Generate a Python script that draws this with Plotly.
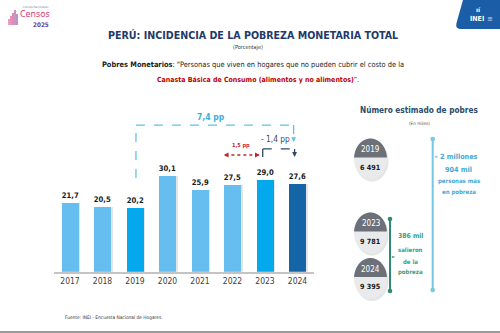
import math
import plotly.graph_objects as go

# Incidencia de la pobreza monetaria total (porcentaje)
anios = ["2017", "2018", "2019", "2020", "2021", "2022", "2023", "2024"]
incidencia = [21.7, 20.5, 20.2, 30.1, 25.9, 27.5, 29.0, 27.6]

# Número estimado de pobres (en miles)
pobres_anios = ["2019", "2023", "2024"]
pobres_miles = [6491, 9781, 9395]

W, H = 500, 333
FN = "DejaVu Sans Condensed, DejaVu Sans, sans-serif"

C_LIGHT = "#66BDF0"
C_MID = "#03A9EC"
C_DARK = "#1565A6"
bar_colors = [C_LIGHT, C_LIGHT, C_MID, C_LIGHT, C_LIGHT, C_LIGHT, C_MID, C_DARK]


def X(px):
    return px / W


def Y(py):
    return 1 - py / H


def fmt_miles(v):
    return f"{v:,}".replace(",", " ")


def pp(v):
    return f"{v:.1f} pp".replace(".", ",")


fig = go.Figure()
# soft shadow behind each bar
fig.add_trace(go.Bar(
    x=anios, y=incidencia, offset=-0.24, width=0.54,
    marker=dict(color="rgba(150,150,150,0.25)", line=dict(width=0)),
    hoverinfo="skip",
))
fig.add_trace(go.Bar(
    x=anios, y=incidencia, offset=-0.26, width=0.52,
    marker=dict(color=bar_colors, line=dict(width=0)),
    texttemplate="<b>%{y:.1f}</b>", textposition="outside",
    textfont=dict(family=FN, size=9.5, color="#1a1a1a"),
    cliponaxis=False, hoverinfo="skip",
))

shapes = []
ann = []


def idx(year):
    return anios.index(year)


# --- brackets over the bars -------------------------------------------
i19, i22, i23, i24 = idx("2019"), idx("2022"), idx("2023"), idx("2024")
v19, v22, v23, v24 = (incidencia[i] for i in (i19, i22, i23, i24))
d_total = round(v24 - v19, 1)
d_last = round(v24 - v23, 1)
d_prev = round(v23 - v22, 1)

top_br = 46.1
LB = "#5CC3EA"
shapes += [
    dict(type="line", xref="x", yref="y", x0=i19 + 0.03, x1=i19 + 0.03, y0=29.5, y1=top_br,
         line=dict(color=LB, width=1.3, dash="dash")),
    dict(type="line", xref="x", yref="y", x0=i19 + 0.03, x1=i24 - 0.12, y0=top_br, y1=top_br,
         line=dict(color=LB, width=1.3, dash="dash")),
    dict(type="line", xref="x", yref="y", x0=i24 - 0.12, x1=i24 - 0.12, y0=top_br, y1=41.2,
         line=dict(color=LB, width=1.3, dash="dash")),
]
ann.append(dict(x=i24 - 0.12, y=40.8, xref="x", yref="y", text="", showarrow=True,
                ax=0, ay=-4, arrowhead=2, arrowsize=0.8, arrowwidth=1.2, arrowcolor=LB))
ann.append(dict(x=4.35, y=48.7, xref="x", yref="y",
                text=f"<b>{pp(d_total)}</b>", showarrow=False,
                font=dict(family=FN, size=8.5, color="#3AB0E2")))

DB = "#2E4868"
yb = 38.6
shapes += [
    dict(type="line", xref="x", yref="y", x0=i23 - 0.07, x1=i23 - 0.07, y0=36.1, y1=yb,
         line=dict(color=DB, width=1.3, dash="dash")),
    dict(type="line", xref="x", yref="y", x0=i23 - 0.07, x1=i24 - 0.09, y0=yb, y1=yb,
         line=dict(color=DB, width=1.3, dash="dash")),
    dict(type="line", xref="x", yref="y", x0=i24 - 0.09, x1=i24 - 0.09, y0=yb, y1=36.6,
         line=dict(color=DB, width=1.3, dash="dash")),
]
ann.append(dict(x=i24 - 0.09, y=36.1, xref="x", yref="y", text="", showarrow=True,
                ax=0, ay=-4, arrowhead=2, arrowsize=0.8, arrowwidth=1.2, arrowcolor=DB))
ann.append(dict(x=6.33, y=41.8, xref="x", yref="y",
                text=f"- {pp(abs(d_last))}", showarrow=False,
                font=dict(family=FN, size=8.3, color="#34506F")))

RD = "#C0282D"
shapes.append(dict(type="line", xref="x", yref="y", x0=4.78, x1=5.8, y0=36.7, y1=36.7,
                   line=dict(color=RD, width=1.3, dash="dot")))
for xe, off in ((5.84, -5), (4.73, 5)):
    ann.append(dict(x=xe, y=36.7, xref="x", yref="y", text="", showarrow=True,
                    ax=off, ay=0, arrowhead=2, arrowsize=0.8, arrowwidth=1.2, arrowcolor=RD))
ann.append(dict(x=5.27, y=39.7, xref="x", yref="y",
                text=f"<b>{pp(d_prev)}</b>", showarrow=False,
                font=dict(family=FN, size=5.5, color=RD)))

# --- header texts --------------------------------------------------------
ann += [
    dict(x=X(253), y=Y(35), xref="paper", yref="paper", showarrow=False,
         text="<b>PERÚ: INCIDENCIA DE LA POBREZA MONETARIA TOTAL</b>",
         font=dict(family=FN, size=10.6, color="#1F3A68")),
    dict(x=X(248), y=Y(47), xref="paper", yref="paper", showarrow=False,
         text="(Porcentaje)", font=dict(family=FN, size=5.5, color="#333333")),
    dict(x=X(252.5), y=Y(64.5), xref="paper", yref="paper", showarrow=False,
         text="<b>Pobres Monetarios</b>: “Personas que viven en hogares que no pueden cubrir el costo de la",
         font=dict(family=FN, size=7.4, color="#1a1a1a")),
    dict(x=X(257.5), y=Y(80), xref="paper", yref="paper", showarrow=False,
         text="<span style='color:#C00000'><b>Canasta Básica de Consumo (alimentos y no alimentos)</b></span>”.",
         font=dict(family=FN, size=7.0, color="#1a1a1a")),
    dict(x=X(63), y=Y(317.5), xref="paper", yref="paper", showarrow=False, xanchor="left",
         text="Fuente: INEI - Encuesta Nacional de Hogares.",
         font=dict(family=FN, size=4.8, color="#333333")),
]

# bottom border of the slide
shapes.append(dict(type="line", xref="paper", yref="paper", x0=0, x1=1, y0=Y(332), y1=Y(332),
                   line=dict(color="#7A7A7A", width=1.5)))

# --- logos ---------------------------------------------------------------
shapes.append(dict(type="path", xref="paper", yref="paper", fillcolor="#1B5DA6", line=dict(width=0),
                   path=(f"M {X(463)},{Y(0)} L {X(500)},{Y(0)} L {X(500)},{Y(29)} L {X(461)},{Y(29)} "
                         f"Q {X(455)},{Y(29)} {X(456.5)},{Y(23)} Z")))
ann += [
    dict(x=X(477), y=Y(18.5), xref="paper", yref="paper", showarrow=False,
         text="<b>INEI</b>", font=dict(family=FN, size=7, color="white")),
    dict(x=X(490), y=Y(18.5), xref="paper", yref="paper", showarrow=False,
         text="≡", font=dict(family="DejaVu Sans", size=7, color="#C8DDF2")),
    dict(x=X(478), y=Y(10), xref="paper", yref="paper", showarrow=False,
         text="<b>ıí</b>", font=dict(family="DejaVu Sans", size=6, color="white")),
]
for hx, hh, col in [(9, 6, "#E25A8E"), (11, 9, "#D84C86"), (13, 12, "#C9407E"),
                    (15, 15, "#A84C9C"), (17, 11, "#8E4FA6")]:
    shapes.append(dict(type="line", xref="paper", yref="paper", x0=X(hx), x1=X(hx),
                       y0=Y(25), y1=Y(25 - hh), line=dict(color=col, width=1.2)))
ann += [
    dict(x=X(34.5), y=Y(14.5), xref="paper", yref="paper", showarrow=False,
         text="Censos", font=dict(family="Noto Sans", size=8.8, color="#DA3A7C")),
    dict(x=X(40.5), y=Y(24.5), xref="paper", yref="paper", showarrow=False,
         text="<b>2025</b>", font=dict(family=FN, size=6.3, color="#6A3C9A")),
    dict(x=X(36), y=Y(7), xref="paper", yref="paper", showarrow=False,
         text="Censos Nacionales", font=dict(family=FN, size=3, color="#888888")),
]

# --- right panel: número estimado de pobres ------------------------------
ann += [
    dict(x=X(419), y=Y(110), xref="paper", yref="paper", showarrow=False,
         text="<b>Número estimado de pobres</b>",
         font=dict(family=FN, size=8.2, color="#2A4D6E")),
    dict(x=X(419), y=Y(123), xref="paper", yref="paper", showarrow=False,
         text="(En miles)", font=dict(family=FN, size=4.6, color="#555555")),
]


def ellipse_cap(cx, cy, rx, ry, yb, n=40):
    # upper part of an ellipse, above the horizontal line y = yb (pixels)
    t = math.asin(max(-1.0, min(1.0, (yb - cy) / ry)))
    a0, a1 = math.pi - t, 2 * math.pi + t
    pts = []
    for k in range(n + 1):
        a = a0 + (a1 - a0) * k / n
        pts.append((cx + rx * math.cos(a), cy + ry * math.sin(a)))
    return "M " + " L ".join(f"{X(px)},{Y(py)}" for px, py in pts) + " Z"


circle_cy = [159, 233, 278.5]
rx, ry = 16.5, 20.5
cx = 370.5
for yr, val, cy in zip(pobres_anios, pobres_miles, circle_cy):
    shapes.append(dict(type="circle", xref="paper", yref="paper",
                       x0=X(cx - rx + 1.5), x1=X(cx + rx + 1.5), y0=Y(cy - ry + 2), y1=Y(cy + ry + 2),
                       fillcolor="#D3D4D6", line=dict(width=0), opacity=0.6))
    shapes.append(dict(type="circle", xref="paper", yref="paper",
                       x0=X(cx - rx), x1=X(cx + rx), y0=Y(cy - ry), y1=Y(cy + ry),
                       fillcolor="#E9EAEC", line=dict(width=0)))
    shapes.append(dict(type="path", xref="paper", yref="paper", fillcolor="#6C7179",
                       line=dict(width=0), path=ellipse_cap(cx, cy, rx, ry, cy - 1.5)))
    ann.append(dict(x=X(cx), y=Y(cy - 9.5), xref="paper", yref="paper", showarrow=False,
                    text=yr, font=dict(family=FN, size=8, color="white")))
    ann.append(dict(x=X(cx), y=Y(cy + 8), xref="paper", yref="paper", showarrow=False,
                    text=f"<b>{fmt_miles(val)}</b>", font=dict(family=FN, size=7.2, color="#1a1a1a")))

# light blue connector 2019 -> 2024
BL = "#74C8E2"
shapes.append(dict(type="line", xref="paper", yref="paper", x0=X(432.7), x1=X(432.7),
                   y0=Y(139), y1=Y(290), line=dict(color=BL, width=2)))
for py in (139, 290):
    shapes.append(dict(type="circle", xref="paper", yref="paper", x0=X(430.4), x1=X(435),
                       y0=Y(py - 2.3), y1=Y(py + 2.3), fillcolor=BL, line=dict(width=0)))
ann.append(dict(x=X(437), y=Y(156), xref="paper", yref="paper", showarrow=False,
                text="►", font=dict(family="DejaVu Sans", size=4.5, color=BL)))
dif_total = pobres_miles[2] - pobres_miles[0]
mill, mil = divmod(dif_total, 1000)
BT = "#3FA9D6"
ann += [
    dict(x=X(459), y=Y(156), xref="paper", yref="paper", showarrow=False,
         text=f"<b>{mill} millones</b>", font=dict(family=FN, size=7.2, color=BT)),
    dict(x=X(458.5), y=Y(169.5), xref="paper", yref="paper", showarrow=False,
         text=f"<b>{mil} mil</b>", font=dict(family=FN, size=7.2, color=BT)),
    dict(x=X(458.5), y=Y(181), xref="paper", yref="paper", showarrow=False,
         text="<b>personas más</b>", font=dict(family=FN, size=6, color=BT)),
    dict(x=X(458.5), y=Y(192), xref="paper", yref="paper", showarrow=False,
         text="<b>en pobreza</b>", font=dict(family=FN, size=6, color=BT)),
]

# green connector 2023 -> 2024
GR = "#2F8A70"
GT = "#3A9E85"
shapes.append(dict(type="line", xref="paper", yref="paper", x0=X(390), x1=X(390),
                   y0=Y(219), y1=Y(291), line=dict(color=GR, width=2)))
for py in (219, 291):
    shapes.append(dict(type="circle", xref="paper", yref="paper", x0=X(387.7), x1=X(392.3),
                       y0=Y(py - 2.3), y1=Y(py + 2.3), fillcolor=GR, line=dict(width=0)))
ann.append(dict(x=X(393.5), y=Y(256), xref="paper", yref="paper", showarrow=False,
                text="►", font=dict(family="DejaVu Sans", size=4, color=GR)))
dif_sal = pobres_miles[1] - pobres_miles[2]
ann += [
    dict(x=X(410.7), y=Y(236), xref="paper", yref="paper", showarrow=False,
         text=f"<b>{dif_sal} mil</b>", font=dict(family=FN, size=6.8, color=GT)),
    dict(x=X(410.7), y=Y(249.5), xref="paper", yref="paper", showarrow=False,
         text="<b>salieron</b>", font=dict(family=FN, size=6, color=GT)),
    dict(x=X(410.7), y=Y(261), xref="paper", yref="paper", showarrow=False,
         text="<b>de la</b>", font=dict(family=FN, size=6, color=GT)),
    dict(x=X(410.7), y=Y(272), xref="paper", yref="paper", showarrow=False,
         text="<b>pobreza</b>", font=dict(family=FN, size=6, color=GT)),
]

for a in ann:
    a.setdefault("xanchor", "center")
    a.setdefault("yanchor", "middle")

fig.update_layout(
    width=W, height=H,
    margin=dict(l=0, r=0, t=0, b=0),
    paper_bgcolor="white", plot_bgcolor="white",
    separators=",.",
    showlegend=False,
    barmode="overlay",
    bargap=0,
    xaxis=dict(domain=[53.75 / W, 313.75 / W], type="category", range=[-0.5, 7.5],
               showline=True, linecolor="#C4C4C4", linewidth=1.5, ticks="",
               showgrid=False, zeroline=False,
               tickfont=dict(family=FN, size=8.5, color="#404040")),
    yaxis=dict(domain=[(H - 271.7) / H, (H - 112.7) / H], range=[0, 50],
               visible=False, showgrid=False, zeroline=False),
    shapes=shapes,
    annotations=ann,
)

fig.write_html("out.html")
